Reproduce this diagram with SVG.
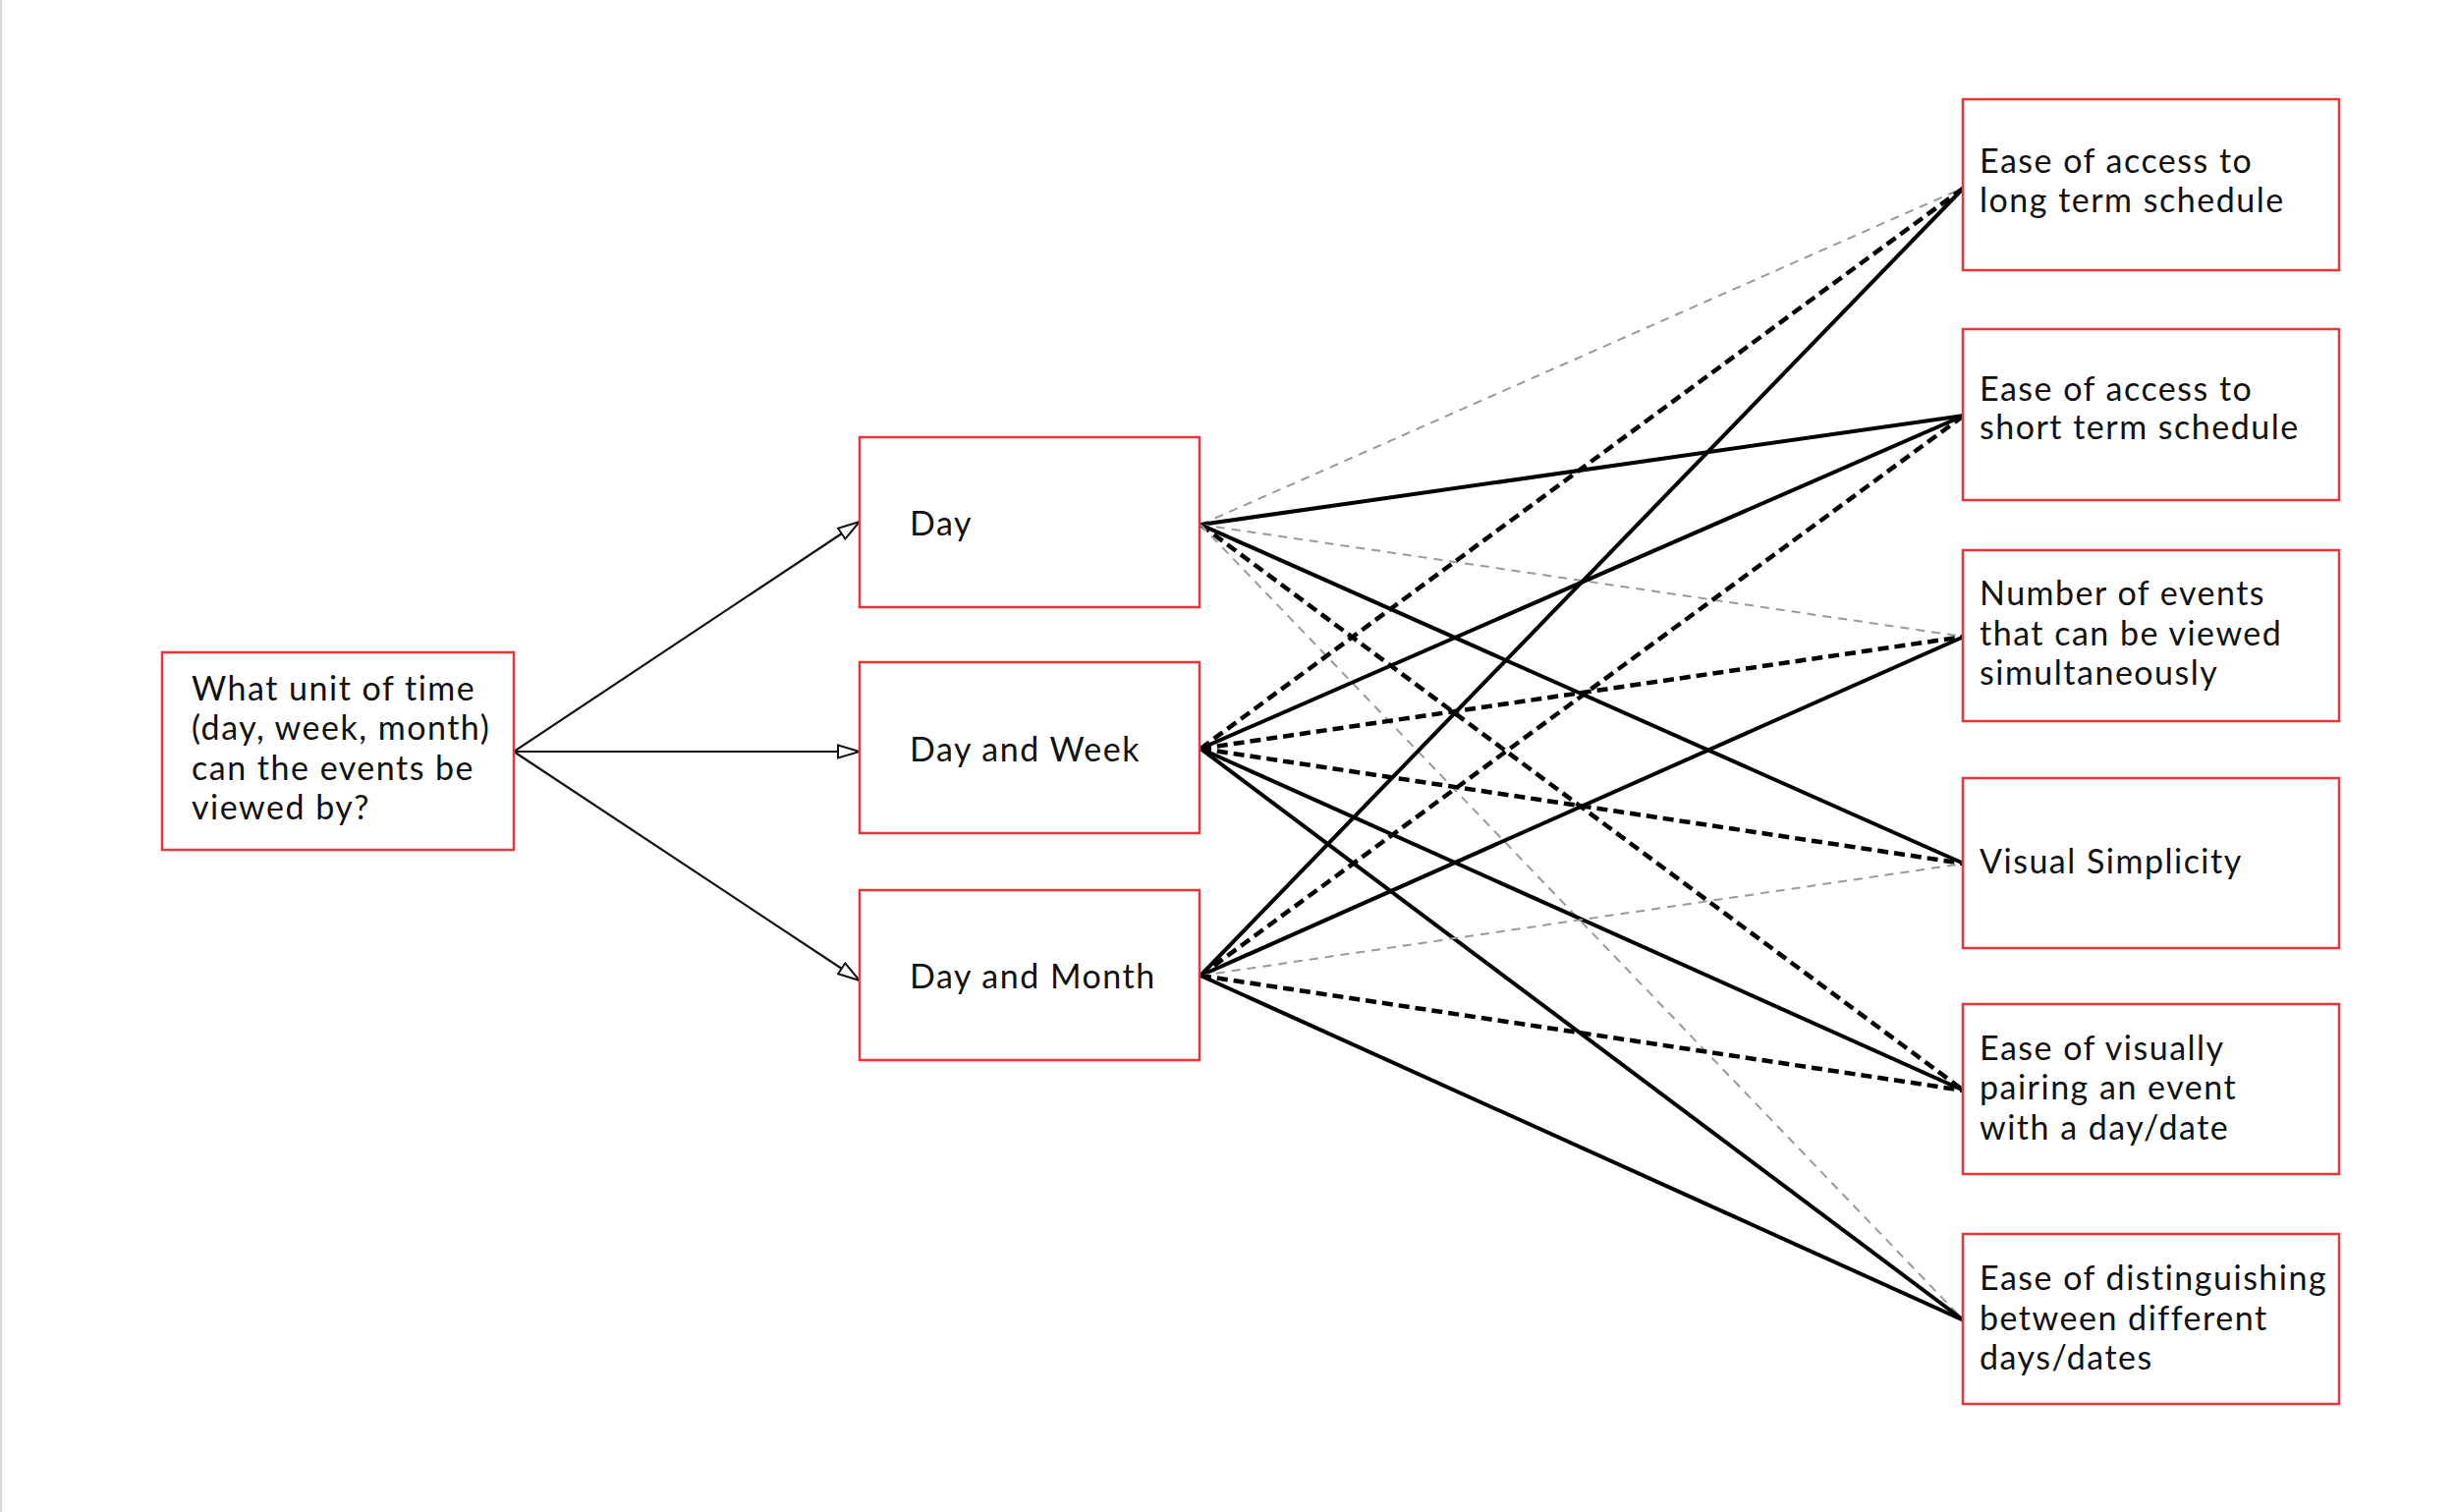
<svg xmlns="http://www.w3.org/2000/svg" width="2500" height="1539" viewBox="0 0 2500 1539">
<defs>
<style>
.box{fill:#ffffff;stroke:#ec3539;stroke-width:2.5}
.t{font-family:Lato,"Liberation Sans",sans-serif;font-size:34px;letter-spacing:1.5px;fill:#111111}
.arr{stroke:#111111;stroke-width:2.2;fill:none}
.solid{stroke:#000000;stroke-width:4;fill:none}
.dash{stroke:#000000;stroke-width:4.5;stroke-dasharray:11 6;fill:none}
.gray{stroke:#9a9a9a;stroke-width:2;stroke-dasharray:9 7;fill:none}
</style>
<marker id="tri" viewBox="0 0 24 16" refX="23" refY="8" markerWidth="24" markerHeight="16" markerUnits="userSpaceOnUse" orient="auto">
<path d="M1,1.5 L23,8 L1,14.5 Z" fill="#ffffff" stroke="#111111" stroke-width="2"/>
</marker>
</defs>
<rect x="0" y="0" width="2500" height="1539" fill="#ffffff"/>
<rect x="0" y="0" width="2" height="1539" fill="#d9d9d9"/>
<g id="connectors">
<line class="arr" x1="523" y1="765" x2="875" y2="531" marker-end="url(#tri)"/>
<line class="arr" x1="523" y1="765" x2="875" y2="765" marker-end="url(#tri)"/>
<line class="arr" x1="523" y1="765" x2="875" y2="998" marker-end="url(#tri)"/>
<!-- from Day -->
<line class="gray" x1="1222" y1="534" x2="1999" y2="191"/>
<line class="solid" x1="1222" y1="534" x2="1999" y2="423"/>
<line class="gray" x1="1222" y1="534" x2="1999" y2="648"/>
<line class="solid" x1="1222" y1="534" x2="1999" y2="879"/>
<line class="dash" x1="1222" y1="534" x2="1999" y2="1110"/>
<line class="gray" x1="1222" y1="534" x2="1999" y2="1344"/>
<!-- from Day and Week -->
<line class="dash" x1="1222" y1="762" x2="1999" y2="191"/>
<line class="solid" x1="1222" y1="762" x2="1999" y2="423"/>
<line class="dash" x1="1222" y1="762" x2="1999" y2="648"/>
<line class="dash" x1="1222" y1="762" x2="1999" y2="879"/>
<line class="solid" x1="1222" y1="762" x2="1999" y2="1110"/>
<line class="solid" x1="1222" y1="762" x2="1999" y2="1344"/>
<!-- from Day and Month -->
<line class="solid" x1="1222" y1="993" x2="1999" y2="191"/>
<line class="dash" x1="1222" y1="993" x2="1999" y2="423"/>
<line class="solid" x1="1222" y1="993" x2="1999" y2="648"/>
<line class="gray" x1="1222" y1="993" x2="1999" y2="879"/>
<line class="dash" x1="1222" y1="993" x2="1999" y2="1110"/>
<line class="solid" x1="1222" y1="993" x2="1999" y2="1344"/>
</g>
<g id="root">
<rect class="box" x="165" y="664" width="358" height="201"/>
<text class="t" x="195" y="713">What unit of time</text>
<text class="t" x="195" y="753">(day, week, month)</text>
<text class="t" x="195" y="794">can the events be</text>
<text class="t" x="195" y="834">viewed by?</text>
</g>
<g id="day">
<rect class="box" x="875" y="445" width="346" height="173"/>
<text class="t" x="926" y="545">Day</text>
</g>
<g id="dayweek">
<rect class="box" x="875" y="674" width="346" height="174"/>
<text class="t" x="926" y="775">Day and Week</text>
</g>
<g id="daymonth">
<rect class="box" x="875" y="906" width="346" height="173"/>
<text class="t" x="926" y="1006">Day and Month</text>
</g>
<g id="longterm">
<rect class="box" x="1998" y="101" width="383" height="174"/>
<text class="t" x="2015" y="176">Ease of access to</text>
<text class="t" x="2015" y="216">long term schedule</text>
</g>
<g id="shortterm">
<rect class="box" x="1998" y="335" width="383" height="174"/>
<text class="t" x="2015" y="408">Ease of access to</text>
<text class="t" x="2015" y="447">short term schedule</text>
</g>
<g id="number">
<rect class="box" x="1998" y="560" width="383" height="174"/>
<text class="t" x="2015" y="616">Number of events</text>
<text class="t" x="2015" y="657">that can be viewed</text>
<text class="t" x="2015" y="697">simultaneously</text>
</g>
<g id="visual">
<rect class="box" x="1998" y="792" width="383" height="173"/>
<text class="t" x="2015" y="889">Visual Simplicity</text>
</g>
<g id="pairing">
<rect class="box" x="1998" y="1022" width="383" height="173"/>
<text class="t" x="2015" y="1079">Ease of visually</text>
<text class="t" x="2015" y="1119">pairing an event</text>
<text class="t" x="2015" y="1160">with a day/date</text>
</g>
<g id="distinguishing">
<rect class="box" x="1998" y="1256" width="383" height="173"/>
<text class="t" x="2015" y="1313">Ease of distinguishing</text>
<text class="t" x="2015" y="1354">between different</text>
<text class="t" x="2015" y="1394">days/dates</text>
</g>
</svg>
